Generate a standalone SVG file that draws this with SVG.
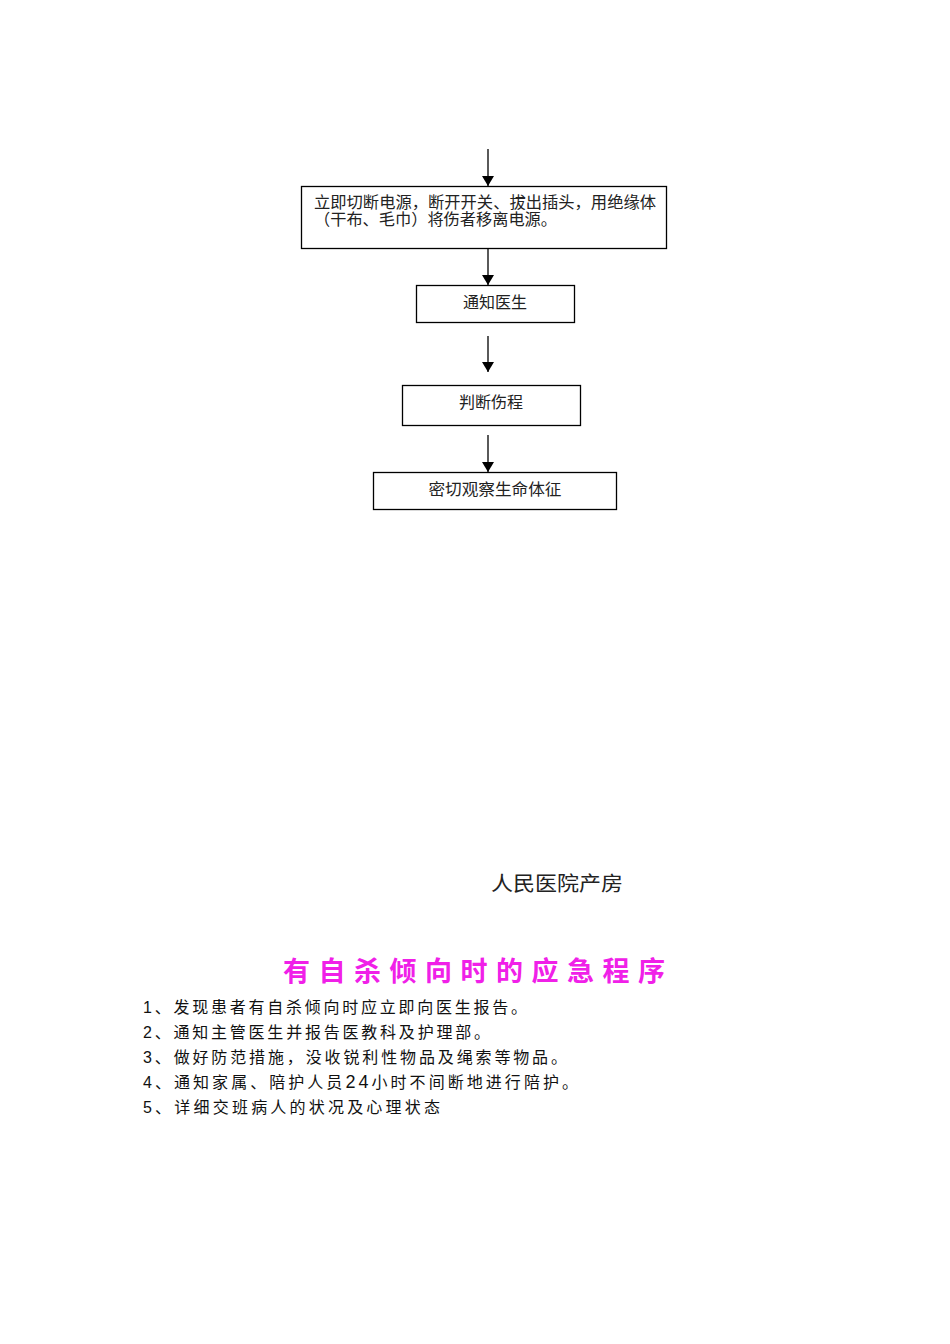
<svg xmlns="http://www.w3.org/2000/svg" width="950" height="1344" viewBox="0 0 950 1344">
<style>
.box{fill:#fff;stroke:#000;stroke-width:1.3}
.t{font-family:"Liberation Serif","Noto Sans CJK SC",serif;font-size:16px;fill:#222}
.c{stroke:#000;stroke-width:1.3;fill:none}
.l{font-family:"Liberation Sans","Noto Sans CJK SC",sans-serif;font-size:16px;fill:#111}
</style>
<defs>
<marker id="arr" viewBox="0 0 10 12" markerWidth="10" markerHeight="12" refX="10" refY="6" orient="auto" markerUnits="userSpaceOnUse">
<path d="M0,0 L10,6 L0,12 Z" fill="#000"/>
</marker>
</defs>
<rect width="950" height="1344" fill="#fff"/>
<g id="connectors">
<line class="c" x1="488" y1="149" x2="488" y2="186" marker-end="url(#arr)"/>
<line class="c" x1="488" y1="249" x2="488" y2="285" marker-end="url(#arr)"/>
<line class="c" x1="488" y1="336" x2="488" y2="372" marker-end="url(#arr)"/>
<line class="c" x1="488" y1="435" x2="488" y2="472" marker-end="url(#arr)"/>
</g>
<g id="n1">
<rect class="box" x="301.5" y="186.5" width="365" height="62"/>
<text class="t" x="314" y="208" textLength="342" lengthAdjust="spacingAndGlyphs">立即切断电源，断开开关、拔出插头，用绝缘体</text>
<text class="t" x="314" y="225" textLength="243" lengthAdjust="spacingAndGlyphs">（干布、毛巾）将伤者移离电源。</text>
</g>
<g id="n2">
<rect class="box" x="416.5" y="285.5" width="158" height="37"/>
<text class="t" x="495" y="308" text-anchor="middle">通知医生</text>
</g>
<g id="n3">
<rect class="box" x="402.5" y="385.5" width="178" height="40"/>
<text class="t" x="491" y="408" text-anchor="middle">判断伤程</text>
</g>
<g id="n4">
<rect class="box" x="373.5" y="472.5" width="243" height="37"/>
<text class="t" x="495" y="495" text-anchor="middle" textLength="133" lengthAdjust="spacingAndGlyphs">密切观察生命体征</text>
</g>
<text x="491" y="891" font-family="Liberation Serif,'Noto Sans CJK SC',serif" font-size="20" fill="#222" textLength="132" lengthAdjust="spacingAndGlyphs">人民医院产房</text>
<text x="283" y="981" font-family="'Noto Sans CJK SC',sans-serif" font-weight="bold" font-size="27" fill="#f020e8" textLength="382" lengthAdjust="spacing">有自杀倾向时的应急程序</text>
<text class="l" x="143" y="1013" textLength="384" lengthAdjust="spacing">1、发现患者有自杀倾向时应立即向医生报告。</text>
<text class="l" x="143" y="1038" textLength="347" lengthAdjust="spacing">2、通知主管医生并报告医教科及护理部。</text>
<text class="l" x="143" y="1063" textLength="424" lengthAdjust="spacing">3、做好防范措施，没收锐利性物品及绳索等物品。</text>
<text class="l" x="143" y="1088" textLength="435" lengthAdjust="spacing">4、通知家属、陪护人员<tspan font-size="18">24</tspan>小时不间断地进行陪护。</text>
<text class="l" x="143" y="1113" textLength="297" lengthAdjust="spacing">5、详细交班病人的状况及心理状态</text>
</svg>
